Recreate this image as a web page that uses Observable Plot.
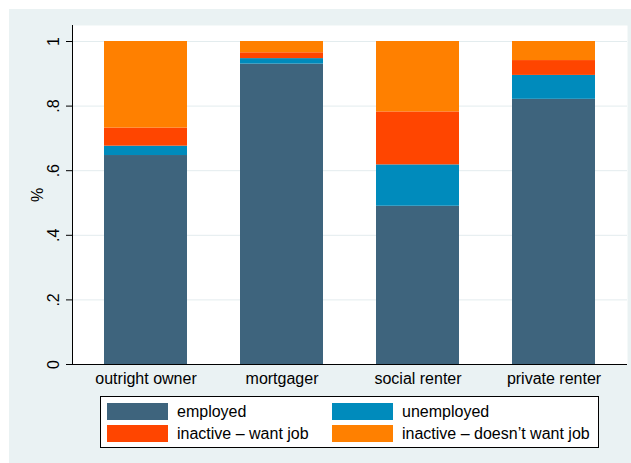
<!DOCTYPE html>
<html>
<head>
<meta charset="utf-8">
<script src="https://cdn.jsdelivr.net/npm/d3@7"></script>
<script src="https://cdn.jsdelivr.net/npm/@observablehq/plot@0.6"></script>
<style>
  html, body { margin: 0; padding: 0; background: #fff; }
  #wrap { position: relative; width: 631px; height: 463px; overflow: hidden;
          font-family: "Liberation Sans", Arial, Helvetica, sans-serif; }
  #bg { position: absolute; left: 9px; top: 9px; right: 0; bottom: 0; background: #eaf2f3; }
  #chart { position: absolute; left: 0; top: 0; }
  #legend { position: absolute; left: 100px; top: 396px; width: 497px; height: 50px;
            border: 1px solid #000; background: #fff; }
  .sw { position: absolute; width: 61px; height: 17px; }
  .lb { position: absolute; font-size: 16px; line-height: 17px; color: #000; white-space: nowrap; }
</style>
</head>
<body>
<div id="wrap"><div id="bg"></div><div id="chart"></div><div id="legend"></div></div>
<script>
const categories = ["outright owner", "mortgager", "social renter", "private renter"];
const series = ["employed", "unemployed", "inactive – want job", "inactive – doesn’t want job"];
const colors = ["#3e647d", "#008bbc", "#ff4500", "#ff8000"];
const employed   = [0.647, 0.930, 0.490, 0.821];
const unemployed = [0.029, 0.017, 0.128, 0.074];
const wantJob    = [0.056, 0.018, 0.164, 0.046];
const noWantJob  = [0.268, 0.035, 0.218, 0.059];
const yTicks = [0, 0.2, 0.4, 0.6, 0.8, 1];
const yTickLabels = ["0", ".2", ".4", ".6", ".8", "1"];

const seriesValues = [employed, unemployed, wantJob, noWantJob];
const data = [];
series.forEach((s, si) => categories.forEach((c, ci) => data.push({cat: c, series: s, value: seriesValues[si][ci]})));

const font = "'Liberation Sans', Arial, Helvetica, sans-serif";

const chart = Plot.plot({
  width: 631,
  height: 463,
  marginLeft: 72,
  marginRight: 4,
  marginTop: 25,
  marginBottom: 99,
  style: {background: "transparent", fontFamily: font, fontSize: "16px", color: "#000"},
  x: {domain: categories, paddingInner: 0.39, paddingOuter: 0.235, label: null},
  y: {domain: [0, 1], insetTop: 16, label: null},
  color: {domain: series, range: colors},
  marks: [
    Plot.frame({fill: "#fff", stroke: null}),
    Plot.gridY(yTicks, {stroke: "#e3ecee", strokeOpacity: 1, strokeWidth: 1}),
    Plot.barY(data, {x: "cat", y: "value", fill: "series", order: series}),
    Plot.axisX({tickSize: 0, tickPadding: 8, fontSize: 16, label: null}),
    Plot.axisY(yTicks, {tickSize: 6, tickFormat: () => "", label: null, stroke: "#000"}),
    Plot.text(yTicks, {y: d => d, text: (d, i) => yTickLabels[i], frameAnchor: "left", dx: -14,
                       rotate: -90, textAnchor: "middle", lineAnchor: "bottom", fontSize: 16, fill: "#000"}),
    Plot.text(["%"], {frameAnchor: "left", dx: -30, rotate: -90, textAnchor: "middle",
                      lineAnchor: "bottom", fontSize: 16, fill: "#000"}),
    Plot.ruleY([0], {stroke: "#000"}),
    Plot.frame({anchor: "left", stroke: "#000"})
  ]
});
document.getElementById("chart").appendChild(chart);

const legend = document.getElementById("legend");
const swLeft = [6, 231], txtLeft = [76, 301], rowTop = [6, 28];
series.forEach((s, i) => {
  const col = i % 2, row = Math.floor(i / 2);
  const sw = document.createElement("div");
  sw.className = "sw";
  sw.style.left = swLeft[col] + "px";
  sw.style.top = rowTop[row] + "px";
  sw.style.background = colors[i];
  legend.appendChild(sw);
  const lb = document.createElement("div");
  lb.className = "lb";
  lb.style.left = txtLeft[col] + "px";
  lb.style.top = rowTop[row] + "px";
  lb.textContent = s;
  legend.appendChild(lb);
});
</script>
</body>
</html>
